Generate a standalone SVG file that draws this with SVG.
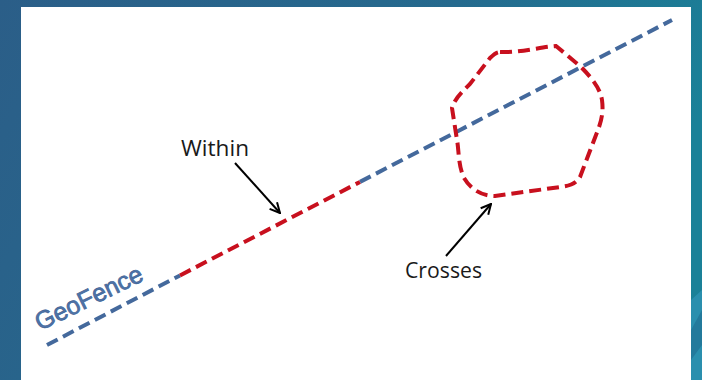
<svg xmlns="http://www.w3.org/2000/svg" width="702" height="380" viewBox="0 0 702 380">
  <defs>
    <linearGradient id="bg" x1="0" y1="0" x2="1" y2="0.3">
      <stop offset="0" stop-color="#2b5e88"/>
      <stop offset="0.6" stop-color="#256a8e"/>
      <stop offset="1" stop-color="#1a8198"/>
    </linearGradient>
    <marker id="arr" viewBox="0 0 12 12" refX="11" refY="6" markerWidth="12" markerHeight="12" markerUnits="userSpaceOnUse" orient="auto">
      <path d="M1,1 L11,6 L1,11" fill="none" stroke="#000" stroke-width="2"/>
    </marker>
    <style>
      .blue { fill: none; stroke: #44699c; stroke-width: 4; stroke-dasharray: 12 6; }
      .red { fill: none; stroke: #c8101e; stroke-width: 4; stroke-dasharray: 12 6; }
      .lbl { font-family: "Open Sans", "Liberation Sans", sans-serif; font-size: 22px; fill: #1a1a1a; }
      .conn { stroke: #000; stroke-width: 2; fill: none; marker-end: url(#arr); }
    </style>
  </defs>
  <rect x="0" y="0" width="702" height="380" fill="url(#bg)"/>
  <polygon points="691,300 702,290 702,380 691,380" fill="#2a8fae"/>
  <polygon points="691,330 702,310 702,345 691,360" fill="#237a9c"/>
  <rect x="21" y="7" width="670" height="373" fill="#ffffff"/>

  <g id="geofence">
    <path class="blue" d="M47,345 L180,275.4"/>
    <path class="blue" d="M360,181.9 L672,20"/>
    <text x="0" y="0" transform="translate(40,331) rotate(-26)" font-family="'Liberation Sans', Arial, sans-serif" font-size="25" fill="#4f74a8" stroke="#3e6396" stroke-width="0.7">GeoFence</text>
  </g>
  <g id="within-segment">
    <path class="red" d="M180,275.4 L360,181.9"/>
  </g>
  <g id="polygon">
    <path class="red" d="M500,52 C520,53 540,47 556,46 L580,66 C592,78 600,88 602,100 C604,115 600,125 596,135 L580,177 C575,185 568,186 560,187 L495,196 C480,196 470,188 464,178 C458,165 459,150 457,140 L452,108 C455,98 462,92 470,84 L490,58 C494,54 497,52 500,52 Z"/>
  </g>
  <g id="within-label">
    <text class="lbl" x="181" y="156" textLength="68" lengthAdjust="spacingAndGlyphs">Within</text>
  </g>
  <g id="crosses-label">
    <text class="lbl" x="405" y="278" textLength="77" lengthAdjust="spacingAndGlyphs">Crosses</text>
  </g>
  <g id="connectors">
    <path class="conn" d="M235,163 L280,213"/>
    <path class="conn" d="M446,256 L491,204"/>
  </g>
</svg>
